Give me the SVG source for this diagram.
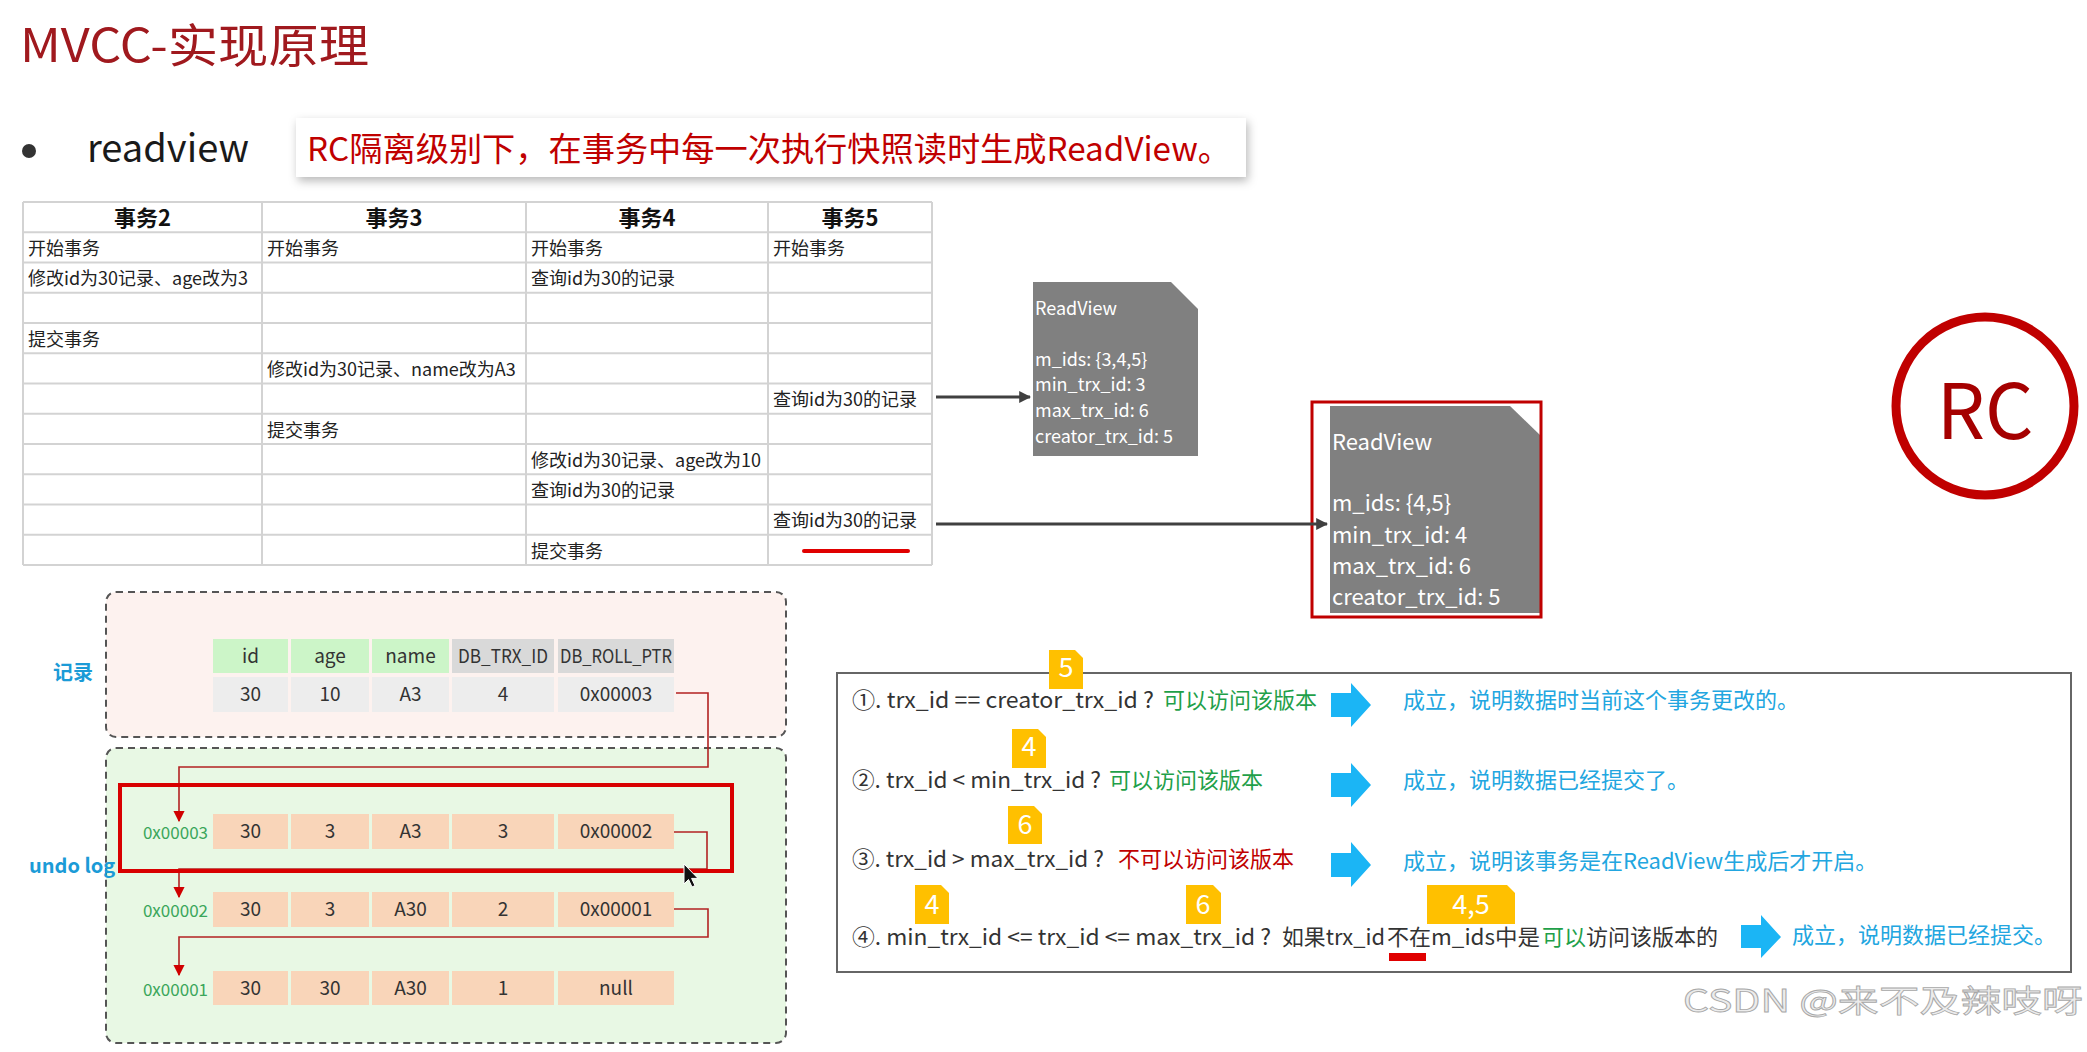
<svg xmlns="http://www.w3.org/2000/svg" width="2087" height="1052" viewBox="0 0 2087 1052">
<defs>
<style>
text{font-family:"Noto Sans CJK SC","Liberation Sans",sans-serif;}
.grid{stroke:#d3d3d3;stroke-width:2;fill:none;}
.th{font-size:22px;font-weight:bold;fill:#111;text-anchor:middle;}
.td{font-size:18px;fill:#222;}
.rv1{font-size:18px;fill:#fff;}
.rv2{font-size:22px;fill:#fff;}
.cell{font-size:19px;fill:#333;text-anchor:middle;}
.hg{fill:#ccf5c8;}
.hgr{fill:#d9d9d9;}
.dr{fill:#ededed;}
.ur{fill:#f9d5b9;}
.addr{font-size:17px;fill:#3aa65a;text-anchor:end;}
.lbl{font-size:20px;font-weight:bold;fill:#1b9bd7;}
.ptr{stroke:#b22222;stroke-width:1.6;fill:none;}
.cond{font-size:22px;fill:#333;}
.ok{fill:#1fa049;}
.no{fill:#c00000;}
.blue{font-size:22px;fill:#22a6e0;}
.barrow{fill:#1bb5f5;}
.badge{fill:#ffc000;}
.bnum{font-size:27px;fill:#fff;text-anchor:middle;}
.conn{stroke:#404040;stroke-width:3;fill:none;}
</style>
<marker id="ah" viewBox="0 0 10 10" refX="9" refY="5" markerWidth="4" markerHeight="4" orient="auto" markerUnits="strokeWidth">
<path d="M0,0 L10,5 L0,10 Z" fill="#404040"/>
</marker>
<marker id="rh" viewBox="0 0 10 10" refX="9" refY="5" markerWidth="7" markerHeight="7" orient="auto" markerUnits="strokeWidth">
<path d="M0,0 L10,5 L0,10 Z" fill="#d00000"/>
</marker>
<filter id="sh" x="-5%" y="-30%" width="110%" height="160%">
<feDropShadow dx="2" dy="4" stdDeviation="5" flood-color="#000" flood-opacity="0.28"/>
</filter>
</defs>
<rect width="2087" height="1052" fill="#fff"/>

<g id="title">
<text x="20" y="62" font-size="46" fill="#a0191e" textLength="349" lengthAdjust="spacingAndGlyphs">MVCC-实现原理</text>
</g>

<g id="bullet">
<circle cx="29" cy="151" r="7" fill="#333"/>
<text x="87" y="162" font-size="38" fill="#1a1a1a" textLength="162" lengthAdjust="spacingAndGlyphs">readview</text>
</g>

<g id="callout">
<rect x="296" y="118" width="950" height="59" fill="#fff" filter="url(#sh)"/>
<text x="307" y="161" font-size="33" fill="#c00000" textLength="924" lengthAdjust="spacingAndGlyphs">RC隔离级别下，在事务中每一次执行快照读时生成ReadView。</text>
</g>

<g id="txn-table">
<rect x="23" y="202" width="909" height="363" fill="#fff"/>
<path class="grid" d="M23,202H932M23,232.25H932M23,262.5H932M23,292.75H932M23,323H932M23,353.25H932M23,383.5H932M23,413.75H932M23,444H932M23,474.25H932M23,504.5H932M23,534.75H932M23,565H932M23,202V565M262,202V565M526,202V565M768,202V565M932,202V565"/>
<text class="th" x="142.5" y="226">事务2</text>
<text class="th" x="394" y="226">事务3</text>
<text class="th" x="647" y="226">事务4</text>
<text class="th" x="850" y="226">事务5</text>
<text class="td" x="28" y="255">开始事务</text>
<text class="td" x="267" y="255">开始事务</text>
<text class="td" x="531" y="255">开始事务</text>
<text class="td" x="773" y="255">开始事务</text>
<text class="td" x="28" y="285">修改id为30记录、age改为3</text>
<text class="td" x="531" y="285">查询id为30的记录</text>
<text class="td" x="28" y="346">提交事务</text>
<text class="td" x="267" y="376">修改id为30记录、name改为A3</text>
<text class="td" x="773" y="406">查询id为30的记录</text>
<text class="td" x="267" y="437">提交事务</text>
<text class="td" x="531" y="467">修改id为30记录、age改为10</text>
<text class="td" x="531" y="497">查询id为30的记录</text>
<text class="td" x="773" y="527">查询id为30的记录</text>
<text class="td" x="531" y="558">提交事务</text>
<line x1="804" y1="551" x2="908" y2="551" stroke="#e00000" stroke-width="4" stroke-linecap="round"/>
</g>

<g id="readview-1">
<path d="M1033,282H1171L1198,309V456H1033Z" fill="#808080"/>
<text class="rv1" x="1035" y="315">ReadView</text>
<text class="rv1" x="1035" y="366">m_ids: {3,4,5}</text>
<text class="rv1" x="1035" y="391">min_trx_id: 3</text>
<text class="rv1" x="1035" y="417">max_trx_id: 6</text>
<text class="rv1" x="1035" y="443">creator_trx_id: 5</text>
</g>

<g id="readview-2">
<rect x="1312" y="402" width="229" height="215" fill="#fff"/>
<path d="M1330,406H1510L1541,436V613H1330Z" fill="#808080"/>
<rect x="1312" y="402" width="229" height="215" fill="none" stroke="#c00000" stroke-width="3"/>
<text class="rv2" x="1332" y="450">ReadView</text>
<text class="rv2" x="1332" y="511">m_ids: {4,5}</text>
<text class="rv2" x="1332" y="543">min_trx_id: 4</text>
<text class="rv2" x="1332" y="574">max_trx_id: 6</text>
<text class="rv2" x="1332" y="605">creator_trx_id: 5</text>
</g>

<g id="rc-badge">
<circle cx="1985" cy="406" r="89" fill="none" stroke="#c00000" stroke-width="9"/>
<text x="1985" y="439" font-size="76" fill="#a50000" text-anchor="middle">RC</text>
</g>

<g id="record">
<rect x="106" y="592" width="680" height="145" rx="10" fill="#fdf2ef" stroke="#555" stroke-width="2" stroke-dasharray="7 5"/>
<text class="lbl" x="53" y="680">记录</text>
<rect class="hg" x="213" y="639" width="75" height="34"/>
<rect class="hg" x="291" y="639" width="78" height="34"/>
<rect class="hg" x="372" y="639" width="77" height="34"/>
<rect class="hgr" x="452" y="639" width="102" height="34"/>
<rect class="hgr" x="558" y="639" width="116" height="34"/>
<rect class="dr" x="213" y="677" width="75" height="35"/>
<rect class="dr" x="291" y="677" width="78" height="35"/>
<rect class="dr" x="372" y="677" width="77" height="35"/>
<rect class="dr" x="452" y="677" width="102" height="35"/>
<rect class="dr" x="558" y="677" width="116" height="35"/>
<text class="cell" x="250.5" y="663">id</text>
<text class="cell" x="330" y="663">age</text>
<text class="cell" x="410.5" y="663">name</text>
<text class="cell" x="503" y="663" textLength="90" lengthAdjust="spacingAndGlyphs">DB_TRX_ID</text>
<text class="cell" x="616" y="663" textLength="112" lengthAdjust="spacingAndGlyphs">DB_ROLL_PTR</text>
<text class="cell" x="250.5" y="701">30</text>
<text class="cell" x="330" y="701">10</text>
<text class="cell" x="410.5" y="701">A3</text>
<text class="cell" x="503" y="701">4</text>
<text class="cell" x="616" y="701">0x00003</text>
</g>

<g id="undo-log">
<rect x="106" y="748" width="680" height="295" rx="10" fill="#e8f8e4" stroke="#555" stroke-width="2" stroke-dasharray="7 5"/>
<text class="lbl" x="29" y="873" font-size="19">undo log</text>
<text class="addr" x="208" y="839">0x00003</text>
<rect class="ur" x="213" y="814" width="75" height="35"/>
<rect class="ur" x="291" y="814" width="78" height="35"/>
<rect class="ur" x="372" y="814" width="77" height="35"/>
<rect class="ur" x="452" y="814" width="102" height="35"/>
<rect class="ur" x="558" y="814" width="116" height="35"/>
<text class="cell" x="250.5" y="838">30</text>
<text class="cell" x="330" y="838">3</text>
<text class="cell" x="410.5" y="838">A3</text>
<text class="cell" x="503" y="838">3</text>
<text class="cell" x="616" y="838">0x00002</text>
<text class="addr" x="208" y="917">0x00002</text>
<rect class="ur" x="213" y="892" width="75" height="35"/>
<rect class="ur" x="291" y="892" width="78" height="35"/>
<rect class="ur" x="372" y="892" width="77" height="35"/>
<rect class="ur" x="452" y="892" width="102" height="35"/>
<rect class="ur" x="558" y="892" width="116" height="35"/>
<text class="cell" x="250.5" y="916">30</text>
<text class="cell" x="330" y="916">3</text>
<text class="cell" x="410.5" y="916">A30</text>
<text class="cell" x="503" y="916">2</text>
<text class="cell" x="616" y="916">0x00001</text>
<text class="addr" x="208" y="996">0x00001</text>
<rect class="ur" x="213" y="971" width="75" height="34"/>
<rect class="ur" x="291" y="971" width="78" height="34"/>
<rect class="ur" x="372" y="971" width="77" height="34"/>
<rect class="ur" x="452" y="971" width="102" height="34"/>
<rect class="ur" x="558" y="971" width="116" height="34"/>
<text class="cell" x="250.5" y="995">30</text>
<text class="cell" x="330" y="995">30</text>
<text class="cell" x="410.5" y="995">A30</text>
<text class="cell" x="503" y="995">1</text>
<text class="cell" x="616" y="995">null</text>
</g>

<g id="connectors">
<path class="conn" d="M936,397H1030" marker-end="url(#ah)"/>
<path class="conn" d="M936,524H1327" marker-end="url(#ah)"/>
<path class="ptr" d="M676,693H708V767H179V821" marker-end="url(#rh)"/>
<path class="ptr" d="M674,832H707V869H179V897" marker-end="url(#rh)"/>
<path class="ptr" d="M674,909H708V937H179V975" marker-end="url(#rh)"/>
</g>

<g id="highlight">
<rect x="120" y="785" width="612" height="86" fill="none" stroke="#d80000" stroke-width="4"/>
<path d="M684,864V884L688.5,879.5L692,887L695,885.6L691.6,878.4H698Z" fill="#111" stroke="#fff" stroke-width="1"/>
</g>

<g id="conditions">
<rect x="837" y="673" width="1234" height="299" fill="#fff" stroke="#666" stroke-width="2"/>
<text class="cond" x="852" y="708" textLength="302" lengthAdjust="spacingAndGlyphs">①. trx_id  == creator_trx_id ?</text>
<text class="cond ok" x="1163" y="708">可以访问该版本</text>
<text class="cond" x="852" y="788" textLength="249" lengthAdjust="spacingAndGlyphs">②. trx_id &lt; min_trx_id ?</text>
<text class="cond ok" x="1109" y="788">可以访问该版本</text>
<text class="cond" x="852" y="867" textLength="252" lengthAdjust="spacingAndGlyphs">③. trx_id &gt; max_trx_id ?</text>
<text class="cond no" x="1118" y="867">不可以访问该版本</text>
<text class="cond" x="852" y="945" textLength="419" lengthAdjust="spacingAndGlyphs">④. min_trx_id &lt;= trx_id &lt;= max_trx_id ?</text>
<text class="cond" x="1282" y="945" textLength="103" lengthAdjust="spacingAndGlyphs">如果trx_id</text>
<text class="cond" x="1387" y="945">不在</text>
<text class="cond" x="1431" y="945" textLength="109" lengthAdjust="spacingAndGlyphs">m_ids中是</text>
<text class="cond ok" x="1542" y="945">可以</text>
<text class="cond" x="1586" y="945">访问该版本的</text>
<rect x="1389" y="953" width="37" height="8" fill="#e00000"/>

<path class="badge" d="M1049,650H1075L1083,658V689H1049Z"/>
<text class="bnum" x="1066" y="677">5</text>
<path class="badge" d="M1012,729H1038L1046,737V768H1012Z"/>
<text class="bnum" x="1029" y="756">4</text>
<path class="badge" d="M1008,806H1034L1042,814V844H1008Z"/>
<text class="bnum" x="1025" y="834">6</text>
<path class="badge" d="M915,885H941L949,893V924H915Z"/>
<text class="bnum" x="932" y="914">4</text>
<path class="badge" d="M1186,885H1213L1221,893V924H1186Z"/>
<text class="bnum" x="1203" y="914">6</text>
<path class="badge" d="M1427,885H1507L1515,893V924H1427Z"/>
<text class="bnum" x="1471" y="914">4,5</text>

<path class="barrow" d="M1331,693H1351V683L1371,705L1351,727V717H1331Z"/>
<path class="barrow" d="M1331,773H1351V763L1371,785L1351,807V797H1331Z"/>
<path class="barrow" d="M1331,853H1351V842L1371,865L1351,887V877H1331Z"/>
<path class="barrow" d="M1741,925H1761V915L1781,937L1761,958V948H1741Z"/>

<text class="blue" x="1403" y="708">成立，说明数据时当前这个事务更改的。</text>
<text class="blue" x="1403" y="788">成立，说明数据已经提交了。</text>
<text class="blue" x="1403" y="869">成立，说明该事务是在ReadView生成后才开启。</text>
<text class="blue" x="1792" y="943">成立，说明数据已经提交。</text>
</g>

<g id="watermark">
<text x="1683" y="1012" font-size="31" fill="#ececec" stroke="#a8a8a8" stroke-width="0.8" textLength="400" lengthAdjust="spacingAndGlyphs">CSDN @来不及辣吱呀</text>
</g>
</svg>
